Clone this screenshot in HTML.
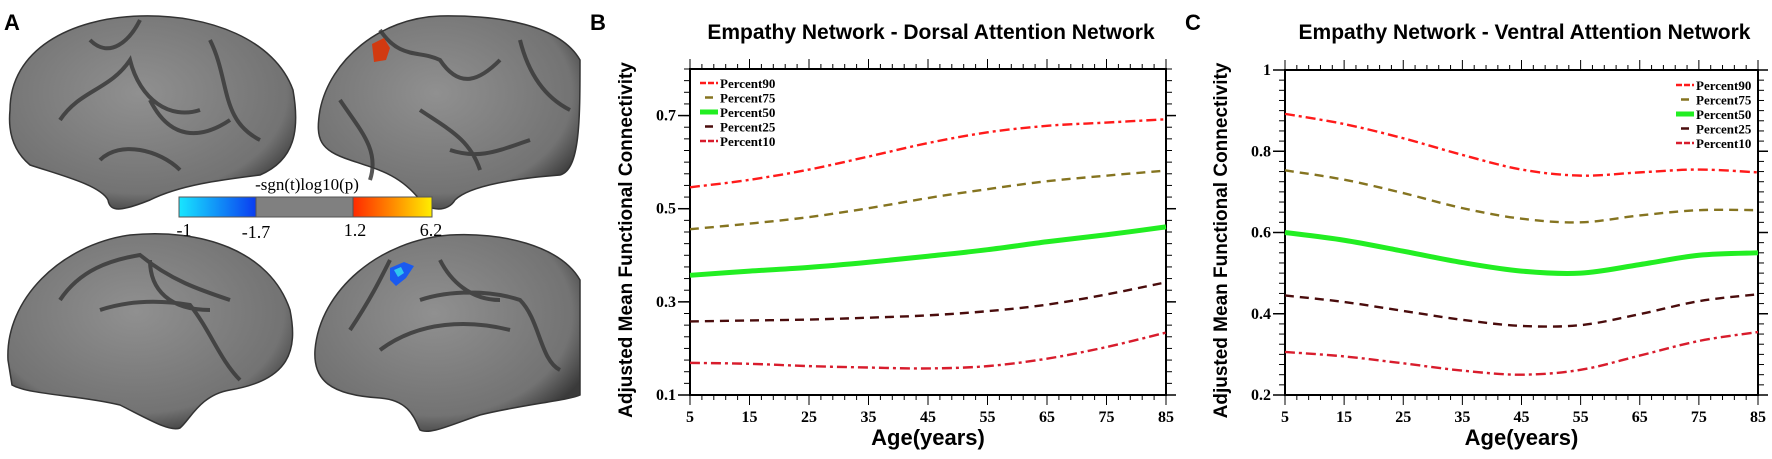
<!DOCTYPE html>
<html><head><meta charset="utf-8"><style>
body{margin:0;background:#fff;width:1772px;height:459px;overflow:hidden}
svg{position:absolute;left:0;top:0}
</style></head><body>
<svg id="fig" width="1772" height="459" viewBox="0 0 1772 459">
<defs>
<radialGradient id="bg" cx="45%" cy="40%" r="65%"><stop offset="0" stop-color="#909090"/><stop offset="0.8" stop-color="#737373"/><stop offset="1" stop-color="#3a3a3a"/></radialGradient>
<linearGradient id="cbl" x1="0" x2="1"><stop offset="0" stop-color="#18e6ff"/><stop offset="1" stop-color="#0a3cf0"/></linearGradient>
<linearGradient id="cbr" x1="0" x2="1"><stop offset="0" stop-color="#ff2a00"/><stop offset="0.5" stop-color="#ff8a00"/><stop offset="1" stop-color="#ffee00"/></linearGradient>
</defs>
<g font-family="Liberation Serif, serif">
<text x="4" y="30" font-family="Liberation Sans, sans-serif" font-weight="bold" font-size="22">A</text>
<path d="M10,110 C10,50 70,18 140,16 C210,14 275,40 293,90 C300,130 295,160 260,175 C220,180 180,185 150,200 C120,212 110,212 108,200 C100,185 60,175 30,165 C12,150 8,130 10,110Z" fill="url(#bg)" stroke="#333" stroke-width="1.5"/>
<path d="M580,60 C560,25 500,15 440,16 C380,18 330,60 320,110 C315,140 320,150 350,160 C380,170 400,175 420,200 C430,212 448,212 455,200 C470,185 520,178 560,175 C580,170 580,120 580,60Z" fill="url(#bg)" stroke="#333" stroke-width="1.5"/>
<path d="M8,360 C5,300 60,245 130,235 C200,228 270,250 290,310 C298,350 290,380 230,390 C200,395 190,420 180,428 C170,432 150,420 120,405 C80,395 30,395 12,385 Z" fill="url(#bg)" stroke="#333" stroke-width="1.5"/>
<path d="M580,280 C560,245 500,232 450,235 C380,240 320,290 315,350 C313,380 330,395 380,398 C410,400 415,420 420,430 C430,435 450,425 480,415 C520,405 570,400 580,395 Z" fill="url(#bg)" stroke="#333" stroke-width="1.5"/>
<g fill="none" stroke="#3a3a3a" stroke-width="4" opacity="0.85">
<path d="M90,40 C110,60 130,40 140,20 M60,120 C80,90 110,90 130,60 C140,100 170,120 200,110 M150,100 C170,140 200,140 230,120 M210,40 C230,80 220,120 260,140 M100,160 C120,140 160,150 180,170"/>
<path d="M380,30 C400,60 420,50 440,60 C460,90 480,80 500,60 M340,100 C360,130 380,150 370,180 M420,110 C450,130 470,140 480,170 M520,40 C530,80 550,100 570,110 M450,150 C480,160 500,150 530,140"/>
<path d="M60,300 C80,270 110,260 140,255 C170,280 200,290 230,300 M100,310 C130,300 160,300 190,305 C210,330 220,360 240,380 M150,260 C150,290 170,310 210,310"/>
<path d="M350,330 C370,300 380,280 390,260 M420,300 C450,290 490,290 520,300 C540,320 540,360 560,370 M440,260 C450,280 470,300 500,300 M380,350 C420,320 470,320 510,330"/>
</g>
<path d="M372,44 l12,-6 l6,10 l-4,12 l-12,2Z" fill="#d23a10"/>
<path d="M390,268 l14,-6 l10,4 l-8,12 l-10,8 l-6,-6Z" fill="#1a5af0"/>
<path d="M394,270 l7,-3 l3,6 l-6,4Z" fill="#2ec6f0"/>
<text x="307" y="190" font-size="17" text-anchor="middle">-sgn(t)log10(p)</text>
<g stroke="#555" stroke-width="1">
<rect x="179" y="197" width="77" height="20" fill="url(#cbl)"/>
<rect x="256" y="197" width="97" height="20" fill="#808080"/>
<rect x="353" y="197" width="79" height="20" fill="url(#cbr)"/>
</g>
<g font-size="18" text-anchor="middle">
<text x="184" y="236">-1</text><text x="256" y="238">-1.7</text><text x="355" y="236">1.2</text><text x="431" y="236">6.2</text>
</g>
</g>
</svg>
<script>
const ages = [5,15,25,35,45,55,65,75,85];
const seriesNames = ['Percent90','Percent75','Percent50','Percent25','Percent10'];
const bP90 = [0.546,0.562,0.584,0.612,0.641,0.664,0.678,0.685,0.692];
const bP75 = [0.456,0.468,0.482,0.501,0.523,0.542,0.559,0.571,0.582];
const bP50 = [0.357,0.366,0.374,0.385,0.398,0.412,0.429,0.444,0.461];
const bP25 = [0.258,0.260,0.262,0.266,0.271,0.280,0.294,0.316,0.342];
const bP10 = [0.169,0.167,0.162,0.159,0.157,0.162,0.178,0.203,0.234];
const cP90 = [0.892,0.867,0.832,0.791,0.755,0.740,0.748,0.755,0.748];
const cP75 = [0.753,0.730,0.697,0.660,0.634,0.625,0.642,0.655,0.655];
const cP50 = [0.600,0.581,0.554,0.526,0.505,0.500,0.521,0.544,0.550];
const cP25 = [0.445,0.429,0.407,0.385,0.370,0.372,0.399,0.431,0.448];
const cP10 = [0.306,0.295,0.278,0.260,0.250,0.262,0.297,0.333,0.355];
const bYTicks = ['0.1','0.3','0.5','0.7'];
const cYTicks = ['0.2','0.4','0.6','0.8','1'];
const xTicks = ['5','15','25','35','45','55','65','75','85'];

const NS='http://www.w3.org/2000/svg';
const svg=document.getElementById('fig');
function mk(tag,attrs,parent){const e=document.createElementNS(NS,tag);for(const k in attrs)e.setAttribute(k,attrs[k]);(parent||svg).appendChild(e);return e;}
const styles=[
 {c:'#ff1a1a',w:2.4,d:'10 4 3 4'},
 {c:'#857420',w:2.4,d:'9 6'},
 {c:'#22ee22',w:5,d:''},
 {c:'#4a0c0c',w:2.4,d:'9 6'},
 {c:'#d81c2c',w:2.4,d:'10 4 3 4'}];

function panel(o){
 const g=mk('g',{});
 
 
 const X=v=>o.L+(v-5)/80*(o.R-o.L);
 const Y=v=>o.B-(v-o.ymin)/(o.ymax-o.ymin)*(o.B-o.T);
 const lab=mk('text',{x:o.L-100,y:30,'font-family':'Liberation Sans, sans-serif','font-weight':'bold','font-size':22},g);lab.textContent=o.letter;
 
 
 const t=mk('text',{x:(o.L+o.R)/2+3,y:39,'text-anchor':'middle','font-family':'Liberation Sans, sans-serif','font-weight':'bold','font-size':21},g);t.textContent=o.title;
 
 
 const fr=mk('rect',{x:o.L,y:o.T,width:o.R-o.L,height:o.B-o.T,fill:'none',stroke:'#000','stroke-width':2},g);
 
 
 for(let a=5;a<=85;a+=2){const big=(a-5)%10===0;const len=big?10:5;
  mk('line',{x1:X(a),x2:X(a),y1:o.B,y2:o.B+len,stroke:'#000','stroke-width':1},g);
  mk('line',{x1:X(a),x2:X(a),y1:o.T,y2:o.T-len,stroke:'#000','stroke-width':1},g);}
 xTicks.forEach(s=>{const tx=mk('text',{x:X(+s),y:o.B+27,'text-anchor':'middle','font-family':'Liberation Serif, serif','font-weight':'bold','font-size':16},g);tx.textContent=s;
  
  });
 const step=o.minor;
 for(let v=o.ymin;v<=o.ymax+1e-9;v+=step){
  mk('line',{x1:o.L,x2:o.L-6,y1:Y(v),y2:Y(v),stroke:'#000','stroke-width':1},g);
  mk('line',{x1:o.R,x2:o.R+6,y1:Y(v),y2:Y(v),stroke:'#000','stroke-width':1},g);}
 o.yt.forEach(s=>{const v=+s;
  mk('line',{x1:o.L,x2:o.L-12,y1:Y(v),y2:Y(v),stroke:'#000','stroke-width':1.5},g);
  mk('line',{x1:o.R,x2:o.R+10,y1:Y(v),y2:Y(v),stroke:'#000','stroke-width':1.5},g);
  const ty=mk('text',{x:o.L-14,y:Y(v)+5,'text-anchor':'end','font-family':'Liberation Serif, serif','font-weight':'bold','font-size':16},g);ty.textContent=s;
  
  });
 const xt=mk('text',{x:(o.L+o.R)/2,y:445,'text-anchor':'middle','font-family':'Liberation Sans, sans-serif','font-weight':'bold','font-size':22},g);xt.textContent='Age(years)';
 
 
 const yx=o.L-58, yy=(o.T+o.B)/2+8;
 const yt=mk('text',{x:yx,y:yy,transform:`rotate(-90 ${yx} ${yy})`,'text-anchor':'middle','font-family':'Liberation Sans, sans-serif','font-weight':'bold','font-size':19},g);yt.textContent='Adjusted Mean Functional Connectivity';
 
 
 o.series.forEach((arr,i)=>{
  const pts=ages.map((a,j)=>[X(a),Y(arr[j])]);
  let d='M'+pts[0][0]+','+pts[0][1];
  for(let j=0;j<pts.length-1;j++){const p0=pts[Math.max(0,j-1)],p1=pts[j],p2=pts[j+1],p3=pts[Math.min(pts.length-1,j+2)];
   d+=` C${p1[0]+(p2[0]-p0[0])/6},${p1[1]+(p2[1]-p0[1])/6} ${p2[0]-(p3[0]-p1[0])/6},${p2[1]-(p3[1]-p1[1])/6} ${p2[0]},${p2[1]}`;}
  const s=styles[i];
  const p=mk('path',{d:d,fill:'none',stroke:s.c,'stroke-width':s.w,'stroke-dasharray':s.d},g);
  
  
  const ly=o.legY+i*14.5;
  const ll=mk('line',{x1:o.legX,x2:o.legX+18,y1:ly,y2:ly,stroke:s.c,'stroke-width':i===2?5:2.5,'stroke-dasharray':i===1||i===3?'0 5 8 5':(s.d?'6 2':'')},g);
  
  
  const lt=mk('text',{x:o.legX+20,y:ly+5,'font-family':'Liberation Serif, serif','font-weight':'bold','font-size':13},g);lt.textContent=seriesNames[i];
  
  
 });
}
panel({name:'chart-dorsal',letter:'B',title:'Empathy Network - Dorsal Attention Network',L:690,R:1166,T:69,B:395,ymin:0.1,ymax:0.8,minor:0.025,yt:bYTicks,series:[bP90,bP75,bP50,bP25,bP10],legX:700,legY:83});
panel({name:'chart-ventral',letter:'C',title:'Empathy Network - Ventral Attention Network',L:1285,R:1758,T:70,B:395,ymin:0.2,ymax:1.0,minor:0.025,yt:cYTicks,series:[cP90,cP75,cP50,cP25,cP10],legX:1676,legY:85});
</script>
</body></html>
